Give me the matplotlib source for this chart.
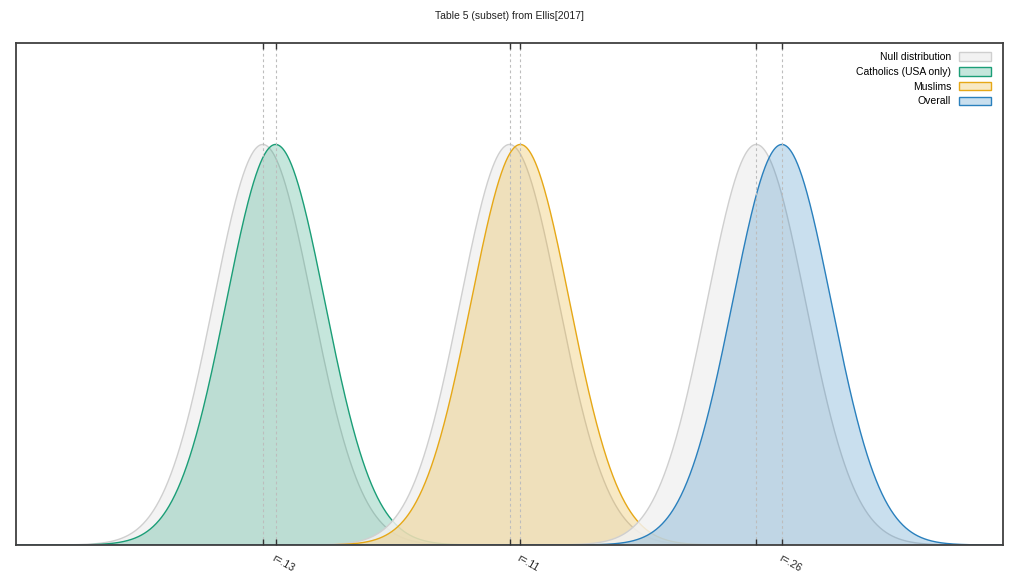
import numpy as np
import matplotlib.pyplot as plt

# groups from Ellis[2017], table 5 (subset)
labels = ['Catholics (USA only)', 'Muslims', 'Overall']
r_values = [0.13, 0.11, 0.26]
tick_labels = ['r=.13', 'r=.11', 'r=.26']
colors = ['#1b9e77', '#e6a817', '#2a80bd']
null_centers = [0.0, 2.5, 5.0]
sigma = 0.5

plt.rcParams['font.family'] = ['Liberation Sans', 'DejaVu Sans']

fig = plt.figure(figsize=(10.24, 5.76), dpi=100)
ax = fig.add_axes([16 / 1024, 31 / 576, 987 / 1024, 502 / 576])

x = np.linspace(-2.5, 7.5, 2000)

def pdf(mu):
    return np.exp(-0.5 * ((x - mu) / sigma) ** 2) / (sigma * np.sqrt(2 * np.pi))

handles = []
for i, (lab, r, c, m0) in enumerate(zip(labels, r_values, colors, null_centers)):
    m1 = m0 + r
    # null distribution
    y0 = pdf(m0)
    ax.fill_between(x, y0, color='#f2f2f2', alpha=0.85, edgecolor='none', zorder=2 + 2 * i)
    ax.plot(x, y0, color='#cfcfcf', lw=1, zorder=2 + 2 * i)
    # observed effect
    y1 = pdf(m1)
    ax.fill_between(x, y1, color=c, alpha=0.25, edgecolor='none', zorder=3 + 2 * i)
    ax.plot(x, y1, color=c, lw=1, zorder=3 + 2 * i)
    for m in (m0, m1):
        ax.axvline(m, color='#bdbdbd', lw=0.8, ls=(0, (2.5, 2.5)), zorder=10)
    if i == 0:
        handles.append(plt.Rectangle((0, 0), 1, 1, facecolor='#f2f2f2', edgecolor='#cfcfcf', lw=1))
    handles.append(plt.Rectangle((0, 0), 1, 1, facecolor=c, alpha=0.25, edgecolor=c, lw=1))

leg_labels = ['Null distribution'] + labels
leg = ax.legend(handles, leg_labels, loc='upper right', frameon=False, markerfirst=False,
                fontsize=7.5, handlelength=3.0, handleheight=0.9, labelspacing=0.45,
                borderaxespad=0.5, bbox_to_anchor=(0.997, 1.0))
leg.set_zorder(30)
for h, c in zip(leg.legend_handles[1:], colors):
    h.set_facecolor((*plt.matplotlib.colors.to_rgb(c), 0.25))
    h.set_edgecolor(c)
    h.set_alpha(None)

ticks = []
labs = []
for r, m0, t in zip(r_values, null_centers, tick_labels):
    ticks += [m0, m0 + r]
    labs += ['', t]
ax.set_xticks(ticks)
ax.set_xticklabels(labs, rotation=-30, ha='left', va='top', rotation_mode='anchor', fontsize=7.5)
ax.set_yticks([])
ax.tick_params(axis='x', direction='in', length=4, width=1, color='#333333', top=True,
               pad=6, labelcolor='#222222')
ax.xaxis.set_zorder(25)
ax.set_xlim(-2.5, 7.5)
ax.set_ylim(0, 1.0)
for s in ax.spines.values():
    s.set_color('#404040')
    s.set_linewidth(1.3)
    s.set_zorder(20)

ax.set_title('Table 5 (subset) from Ellis[2017]', fontsize=7.5, pad=17, color='#222222')

fig.savefig('out.png', dpi=100)
